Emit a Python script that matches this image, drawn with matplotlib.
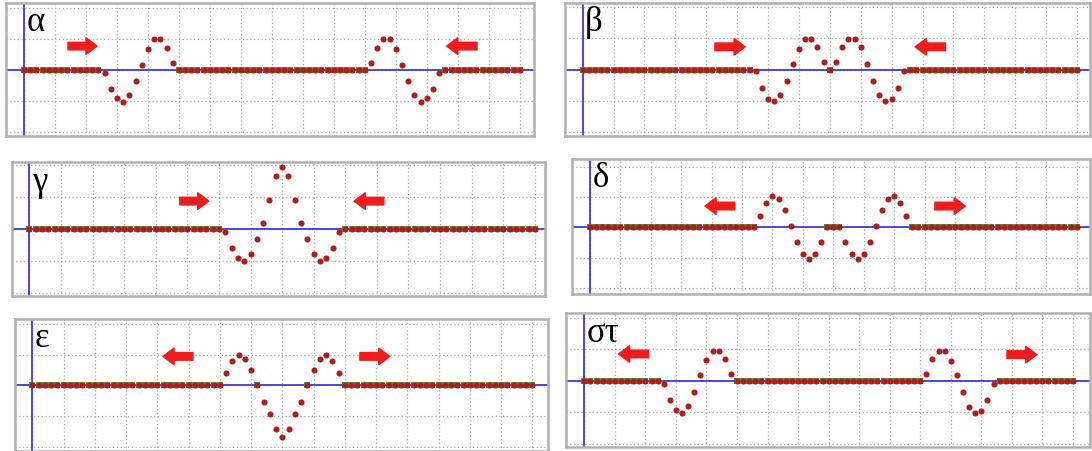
import numpy as np
import matplotlib
matplotlib.use("Agg")
import matplotlib.pyplot as plt

# string samples 0..80, two pulses meeting and passing each other
n_points = 81
labels = ["α", "β", "γ", "δ", "ε", "στ"]

# (first index, displacements) for the non-zero parts of each snapshot
alpha_pulses = [(13, [-0.09, -0.60, -0.92, -1.03, -0.82, -0.35, 0.17, 0.67, 0.99, 0.99, 0.70, 0.24]),
                (56, [0.24, 0.70, 0.99, 0.99, 0.67, 0.17, -0.35, -0.82, -1.03, -0.92, -0.60, -0.09])]
beta_pulses = [(28, [-0.05, -0.61, -0.94, -1.01, -0.81, -0.37, 0.19, 0.65, 0.98, 0.98, 0.71, 0.25]),
               (41, [0.25, 0.71, 0.98, 0.98, 0.71, 0.19, -0.37, -0.81, -1.01, -0.94, -0.61, -0.05])]
gamma_pulses = [(31, [-0.10, -0.60, -0.92, -1.00, -0.78, -0.32, 0.20, 0.90, 1.64, 1.94,
                      1.64, 0.90, 0.20, -0.32, -0.78, -1.00, -0.92, -0.60, -0.10])]
delta_pulses = [(28, [0.36, 0.80, 1.02, 0.93, 0.57, 0.05, -0.47, -0.88, -1.05, -0.88, -0.47]),
                (42, [-0.47, -0.88, -1.05, -0.88, -0.47, 0.05, 0.57, 0.93, 1.02, 0.80, 0.36])]
epsilon_pulses = [(31, [0.40, 0.81, 1.00, 0.87, 0.49, 0.0, -0.55, -0.92, -1.43, -1.68,
                        -1.43, -0.92, -0.55, 0.0, 0.49, 0.87, 1.00, 0.81, 0.40])]
st_pulses = [(13, [-0.10, -0.60, -0.93, -1.03, -0.80, -0.36, 0.17, 0.67, 0.96, 0.96, 0.69, 0.21]),
             (56, [0.23, 0.69, 0.95, 0.95, 0.64, 0.18, -0.37, -0.82, -1.02, -0.95, -0.60, -0.10])]
all_pulses = [alpha_pulses, beta_pulses, gamma_pulses, delta_pulses, epsilon_pulses, st_pulses]

# direction arrows: (tail x, head x, y)
arrows = [
    [(7.1, 11.8, 0.77), (73.1, 68.2, 0.77)],
    [(21.4, 26.3, 0.73), (58.7, 53.8, 0.73)],
    [(23.8, 28.4, 0.87), (56.1, 51.4, 0.87)],
    [(23.8, 18.9, 0.70), (56.7, 61.7, 0.70)],
    [(25.7, 20.9, 0.95), (52.4, 57.2, 0.95)],
    [(10.5, 5.6, 0.85), (69.2, 74.1, 0.83)],
]

# panel boxes in pixels (left, top, right, bottom) and axis limits
boxes = [(6, 4, 534, 137), (565, 4, 1090, 137),
         (12, 163, 545, 297), (572, 160, 1090, 295),
         (15, 320, 548, 452), (566, 314, 1090, 448)]
xlims = [(-2.9, 82.3), (-2.86, 82.1), (-2.74, 81.6), (-2.96, 82.2), (-2.77, 82.5), (-3.0, 82.8)]
ylims = [(-2.13, 2.16), (-2.14, 2.14), (-2.09, 2.09), (-2.2, 2.25), (-2.14, 2.17), (-2.1, 2.15)]

W, H = 1092, 452
fig = plt.figure(figsize=(W / 100, H / 100), dpi=100)

x = np.arange(n_points)
for k in range(6):
    l, t, r, b = boxes[k]
    ax = fig.add_axes([l / W, 1 - b / H, (r - l) / W, (b - t) / H])
    y = np.zeros(n_points)
    for start, vals in all_pulses[k]:
        y[start:start + len(vals)] = vals

    ax.set_xlim(*xlims[k])
    ax.set_ylim(*ylims[k])
    ax.set_xticks(np.arange(0, 81, 5))
    ax.set_yticks([-2, -1, 0, 1, 2])
    ax.tick_params(length=0, labelbottom=False, labelleft=False)
    ax.grid(True, color="#a8a8a8", linestyle=(0, (1, 2)), linewidth=0.9)
    ax.set_axisbelow(True)
    for s in ax.spines.values():
        s.set_color("#b0b0b0")
        s.set_linewidth(1.8)

    ax.axhline(0, color="#3c3cd6", lw=1.3, zorder=2)
    ax.axvline(0, color="#3c3cd6", lw=1.3, zorder=2)

    flat = y == 0
    ax.plot(x[flat], y[flat], "s", color="#5e8a3e", markersize=4.6, markeredgewidth=0, zorder=3)
    ax.plot(x, y, "o", color="#b01c1c", markersize=4.4, markeredgewidth=0, zorder=4)

    for x0, x1, ya in arrows[k]:
        ax.annotate("", xy=(x1, ya), xytext=(x0, ya),
                    arrowprops=dict(arrowstyle="simple,head_length=0.8,head_width=1.2,tail_width=0.55",
                                    color="#ee1c1c", shrinkA=0, shrinkB=0, mutation_scale=10),
                    zorder=5)

    ax.text(0.4, ylims[k][1] - 0.08, labels[k], family=["Liberation Serif", "DejaVu Serif"],
            fontsize=25, va="top", ha="left", zorder=6)

fig.savefig("out.png", dpi=100)
